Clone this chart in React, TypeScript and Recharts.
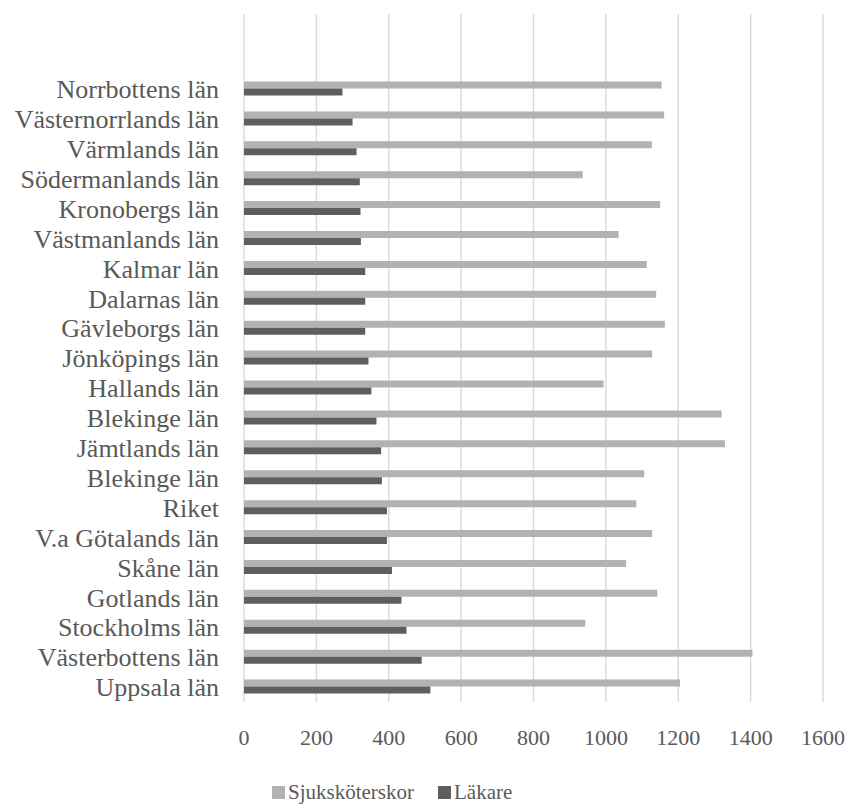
import React from "react";
import {
  BarChart,
  Bar,
  XAxis,
  YAxis,
  CartesianGrid,
  Legend,
} from "recharts";

// Län, top to bottom
const regions = [
  "Norrbottens län",
  "Västernorrlands län",
  "Värmlands län",
  "Södermanlands län",
  "Kronobergs län",
  "Västmanlands län",
  "Kalmar län",
  "Dalarnas län",
  "Gävleborgs län",
  "Jönköpings län",
  "Hallands län",
  "Blekinge län",
  "Jämtlands län",
  "Blekinge län",
  "Riket",
  "V.a Götalands län",
  "Skåne län",
  "Gotlands län",
  "Stockholms län",
  "Västerbottens län",
  "Uppsala län",
];

const nurses = [
  1154, 1161, 1127, 936, 1150, 1035, 1113, 1139, 1163, 1128, 994, 1320, 1329,
  1106, 1084, 1128, 1056, 1142, 943, 1405, 1205,
];

const doctors = [
  272, 300, 311, 320, 322, 323, 335, 335, 335, 344, 352, 366, 379, 381, 395,
  395, 409, 435, 449, 491, 515,
];

const seriesNames = ["Sjuksköterskor", "Läkare"];

const xTicks = [0, 200, 400, 600, 800, 1000, 1200, 1400, 1600];

const FONT = "'Liberation Serif', 'Times New Roman', serif";
const TEXT = "#595959";
const LIGHT = "#b2b2b2";
const DARK = "#5e5e5e";

const data = regions.map((name, i) => ({
  id: `${i}`,
  name,
  [seriesNames[0]]: nurses[i],
  [seriesNames[1]]: doctors[i],
}));

// legend keeps series order instead of sorting by name
function LegendBox({ payload }: any) {
  const items = seriesNames
    .map((n) => (payload || []).find((p: any) => p.value === n))
    .filter(Boolean);
  return (
    <div
      style={{
        display: "flex",
        alignItems: "center",
        height: 26,
        paddingLeft: 272,
        fontFamily: FONT,
        fontSize: 21,
        color: TEXT,
      }}
    >
      {items.map((p: any, i: number) => (
        <div
          key={p.value}
          style={{
            display: "flex",
            alignItems: "center",
            marginRight: i === 0 ? 24 : 0,
          }}
        >
          <span
            style={{
              display: "inline-block",
              width: 13,
              height: 13,
              background: p.color,
              marginRight: 3,
            }}
          />
          <span>{p.value}</span>
        </div>
      ))}
    </div>
  );
}

export default function App() {
  return (
    <div style={{ position: "absolute", left: 0, top: 0, background: "#fff" }}>
      <BarChart
        width={849}
        height={805}
        data={data}
        layout="vertical"
        margin={{ top: 14, right: 26, left: 0, bottom: 0 }}
        barCategoryGap="25%"
        barGap={0}
      >
        <CartesianGrid
          horizontal={false}
          stroke="#d9d9d9"
          strokeWidth={1.4}
        />
        <XAxis
          type="number"
          domain={[0, 1600]}
          ticks={xTicks}
          axisLine={false}
          tickLine={false}
          tickSize={0}
          tickMargin={27}
          height={77}
          interval={0}
          tick={{ fill: TEXT, fontSize: 22, fontFamily: FONT }}
        />
        <YAxis
          type="category"
          dataKey="id"
          tickFormatter={(v: string) => regions[Number(v)]}
          width={244}
          axisLine={false}
          tickLine={false}
          tickSize={0}
          tickMargin={25}
          interval={0}
          padding={{ top: 60, bottom: 0 }}
          tick={{ fill: TEXT, fontSize: 26, fontFamily: FONT }}
        />
        <Legend verticalAlign="bottom" content={<LegendBox />} />
        <Bar
          dataKey={seriesNames[0]}
          fill={LIGHT}
          isAnimationActive={false}
        />
        <Bar dataKey={seriesNames[1]} fill={DARK} isAnimationActive={false} />
      </BarChart>
    </div>
  );
}
